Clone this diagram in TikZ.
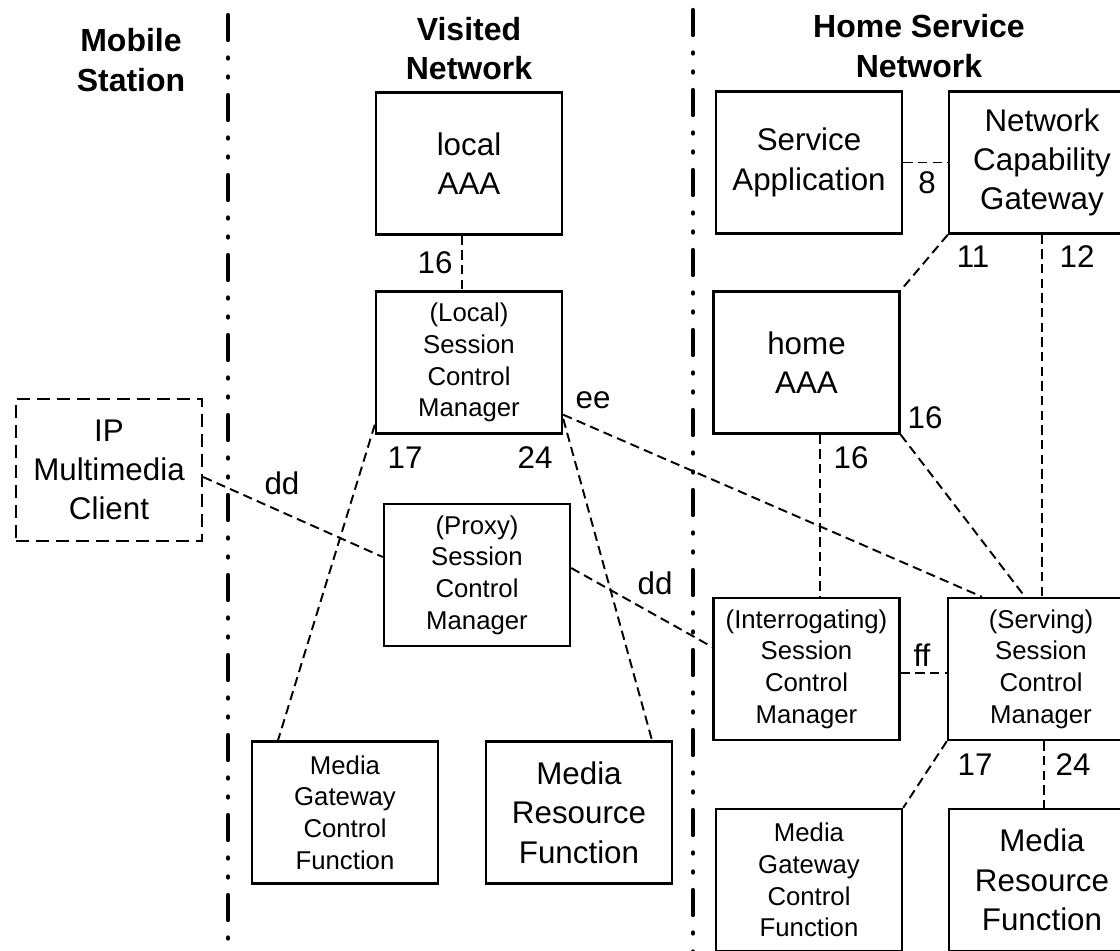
\documentclass[tikz,border=0pt]{standalone}
\usepackage{fontspec}
\setmainfont{Liberation Sans}
\usetikzlibrary{calc}

\begin{document}
\begin{tikzpicture}[x=0.75pt, y=-0.75pt,
  box/.style={draw, line width=1.8pt, minimum width=139.5pt, minimum height=106.5pt,
    inner sep=0pt, align=center, font=\fontsize{23.5}{29.5}\selectfont},
  smallbox/.style={box, font=\fontsize{19.3}{23.8}\selectfont},
  clientbox/.style={box, dash pattern=on 9.75pt off 5.25pt},
  head/.style={align=center, inner sep=0pt, font=\bfseries\fontsize{24}{29.5}\selectfont},
  lab/.style={inner sep=0pt, font=\fontsize{23.5}{28}\selectfont},
  link/.style={line width=1.45pt, dash pattern=on 7pt off 4pt},
  divider/.style={line width=3.2pt, line cap=round,
    dash pattern=on 18.75pt off 13.1pt on 0.8pt off 13.45pt on 0.8pt off 13.1pt}]

\useasboundingbox (0,0) rectangle (1120,950);
\clip (0,0) rectangle (1120,950);

% domain headers
\node[head] (hms) at (131,60) {Mobile\\Station};
\node[head] (hvn) at (469,48.5) {Visited\\Network};
\node[head] (hhn) at (919,46) {Home Service\\Network};

% domain borders
\draw[divider] (228,15) -- (228,965);
\draw[divider] (693,10) -- (693,965);

% mobile station
\node[clientbox] (ipc) at (109,470) {IP\\Multimedia\\Client};

% visited network
\node[box] (laaa) at (469,163.5) {local\\AAA};
\node[smallbox] (lsc) at (469,362.5) {(Local)\\Session\\Control\\Manager};
\node[smallbox] (psc) at (477,575) {(Proxy)\\Session\\Control\\Manager};
\node[smallbox] (vmg) at (345,812.5) {Media\\Gateway\\Control\\Function};
\node[box] (vmr) at (579,812.5) {Media\\Resource\\Function};

% home service network
\node[box] (sa) at (809,162.5) {Service\\Application};
\node[box] (ncg) at (1042,162.5) {Network\\Capability\\Gateway};
\node[box] (haaa) at (806.5,362.5) {home\\AAA};
\node[smallbox] (isc) at (806.5,669) {(Interrogating)\\Session\\Control\\Manager};
\node[smallbox] (ssc) at (1041,669) {(Serving)\\Session\\Control\\Manager};
\node[smallbox] (hmg) at (809,880) {Media\\Gateway\\Control\\Function};
\node[box] (hmr) at (1042,880) {Media\\Resource\\Function};

% reference points
\draw[link] ([xshift=-5.25pt]laaa.south) -- ([xshift=-5.25pt]lsc.north);
\draw[link] (sa.east) -- (ncg.west);
\draw[link] (ncg.south west) -- (haaa.north east);
\draw[link] (ncg.south) -- (ncg.south |- ssc.north);
\draw[link] ([xshift=10pt]haaa.south) -- ([xshift=10pt]haaa.south |- isc.north);
\draw[link] (haaa.south east) -- ([xshift=-12pt]ssc.north);
\draw[link] ([yshift=15pt]lsc.south east) -- ([xshift=-44.25pt]ssc.north);
\draw[link] ([yshift=-5.25pt]ipc.east) -- ([yshift=13.5pt]psc.west);
\draw[link] ([yshift=5.25pt]psc.east) -- ([yshift=16.5pt]isc.west);
\draw[link] ([yshift=7.5pt]lsc.south west) -- ([xshift=-50.25pt]vmg.north);
\draw[link] ([yshift=12pt]lsc.south east) -- ([xshift=54.75pt]vmr.north);
\draw[link] ([yshift=-3pt]isc.east) -- ([yshift=-3pt]isc.east -| ssc.west);
\draw[link] (ssc.south west) -- (hmg.north east);
\draw[link] ([xshift=2.25pt]ssc.south) -- ([xshift=2.25pt]ssc.south |- hmr.north);

% reference point labels
\node[lab] (l16a) at (435,263) {16};
\node[lab] (l8) at (927,183) {8};
\node[lab] (l11) at (973,257) {11};
\node[lab] (l12) at (1077,257) {12};
\node[lab] (l16b) at (925,418) {16};
\node[lab] (l16c) at (851,458) {16};
\node[lab] (lee) at (593,400) {ee};
\node[lab] (l17a) at (405,458) {17};
\node[lab] (l24a) at (535,458) {24};
\node[lab] (ldda) at (282,483) {dd};
\node[lab] (lddb) at (655,583) {dd};
\node[lab] (lff) at (922,655) {ff};
\node[lab] (l17b) at (975,765) {17};
\node[lab] (l24b) at (1073,765) {24};
\end{tikzpicture}
\end{document}
